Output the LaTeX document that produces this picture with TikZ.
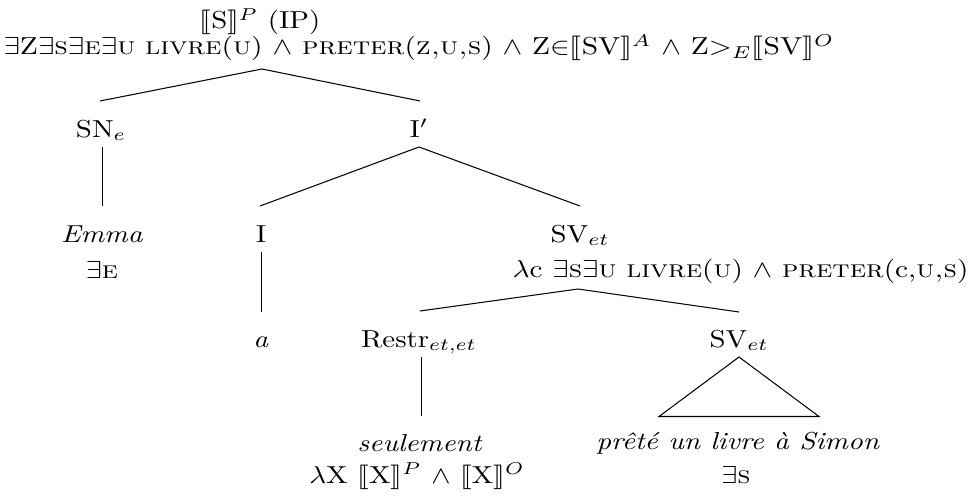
\documentclass[tikz,border=0pt]{standalone}
\usepackage{stmaryrd}
\newcommand{\vsq}[1]{\scalebox{1}[0.85]{#1}}
\newcommand{\vsqw}[2]{\scalebox{#1}[0.85]{#2}}
\begin{document}
\begin{tikzpicture}[x=0.3464pt,y=-0.3464pt,
  lbl/.style={anchor=base,inner sep=0pt},
  lblw/.style={anchor=base west,inner sep=0pt},
  branch/.style={line width=0.36pt}]
\useasboundingbox (0,0) rectangle (971,501);
% root
\node[lbl] (root) at (260,29) {\vsq{$\llbracket$S$\rrbracket^P$ (IP)}};
\node[lblw] (rootf) at (3,55) {\vsqw{1.023}{$\exists$Z$\exists$\textsc{s}$\exists$\textsc{e}$\exists$\textsc{u} \textsc{livre}(\textsc{u}) $\wedge$ \textsc{preter}(\textsc{z,u,s}) $\wedge$ Z$\mathord{\in}\llbracket$SV$\rrbracket^A$ $\wedge$ Z$\mathord{>}_E\llbracket$SV$\rrbracket^O$}};
\coordinate (rootb) at (262,69);
% level 1
\node[lbl] (sn) at (101,137) {\vsq{SN$_e$}};
\node[lbl] (ib) at (419,137) {\vsq{I$'$}};
\coordinate (snt) at (100,101);
\coordinate (ibt) at (420,101);
\coordinate (snb) at (102.5,147);
\coordinate (ibb) at (419,147);
% level 2
\node[lbl] (emma) at (102,242) {\vsq{\textit{Emma}}};
\node[lbl] (emmaf) at (102,278) {\vsq{$\exists$\textsc{e}}};
\coordinate (emmat) at (102.5,206);
\node[lbl] (i) at (261,242) {\vsq{I}};
\coordinate (it) at (260,206);
\coordinate (ibot) at (261.5,252);
\node[lbl] (sv) at (580,242) {\vsq{SV$_{et}$}};
\node[lblw] (svf) at (512,277) {\vsqw{1.016}{$\lambda$c $\exists$\textsc{s}$\exists$\textsc{u} \textsc{livre}(\textsc{u}) $\wedge$ \textsc{preter}(c,\textsc{u,s})}};
\coordinate (svt) at (580,206);
\coordinate (svb) at (578,289);
% level 3
\node[lbl] (a) at (261,347) {\vsq{\textit{a}}};
\coordinate (at) at (261.5,312);
\node[lbl] (restr) at (419,347) {\vsq{Restr$_{et,et}$}};
\coordinate (restrt) at (420,311);
\coordinate (restrb) at (421.5,357);
\node[lbl] (sv2) at (739,347) {\vsq{SV$_{et}$}};
\coordinate (sv2t) at (739,312);
\coordinate (sv2b) at (739,357);
% level 4
\node[lbl] (seul) at (420,451) {\vsq{\textit{seulement}}};
\node[lbl] (seulf) at (417,483) {\vsq{$\lambda$X $\llbracket$X$\rrbracket^P$ $\wedge$ $\llbracket$X$\rrbracket^O$}};
\coordinate (seult) at (421.5,416);
\node[lbl] (pret) at (738,449) {\vsq{\textit{prêté un livre à Simon}}};
\node[lbl] (pretf) at (736,483) {\vsq{$\exists$\textsc{s}}};
\coordinate (tril) at (659,416.5);
\coordinate (trir) at (819,416.5);
% branches
\draw[branch] (snt) -- (rootb) -- (ibt);
\draw[branch] (snb) -- (emmat);
\draw[branch] (it) -- (ibb) -- (svt);
\draw[branch] (ibot) -- (at);
\draw[branch] (restrt) -- (svb) -- (sv2t);
\draw[branch] (restrb) -- (seult);
\draw[branch] (sv2b) -- (tril) -- (trir) -- cycle;
\end{tikzpicture}
\end{document}
